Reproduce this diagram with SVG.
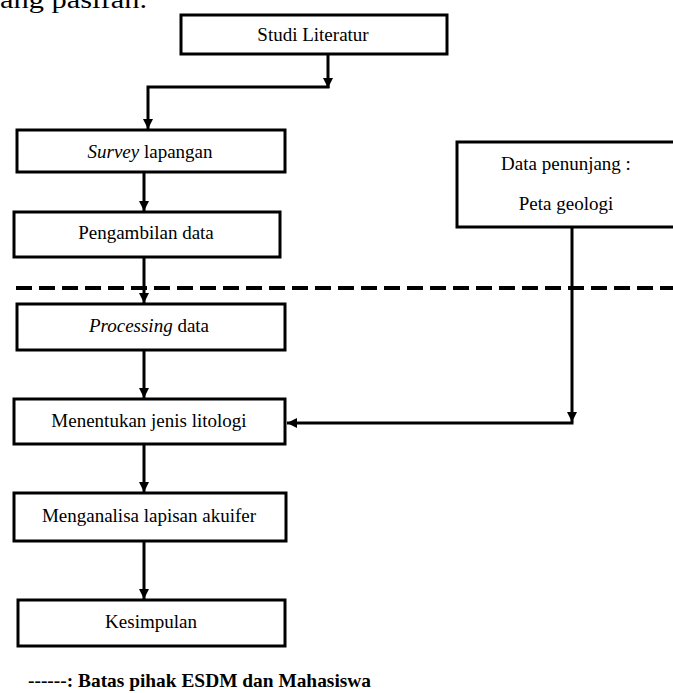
<svg xmlns="http://www.w3.org/2000/svg" width="673" height="693" viewBox="0 0 673 693">
<style>
.box{fill:#fff;stroke:#000;stroke-width:3}
.t{font-family:"Liberation Serif","Times New Roman",serif;font-size:19px;fill:#000;text-anchor:middle}
.c{fill:none;stroke:#000;stroke-width:3}
.i{font-style:italic}
</style>
<defs>
<marker id="ah" markerUnits="userSpaceOnUse" markerWidth="10" markerHeight="10" refX="10" refY="5" orient="auto">
<path d="M0,0 L10,5 L0,10 z" fill="#000"/>
</marker>
</defs>
<rect width="673" height="693" fill="#fff"/>
<text x="0" y="8" font-family="Liberation Serif, serif" font-size="26" textLength="147" lengthAdjust="spacingAndGlyphs">ang pasifan.</text>

<g id="connectors">
<line x1="16" y1="288" x2="673" y2="288" stroke="#000" stroke-width="4" stroke-dasharray="16 7"/>
<path class="c" d="M328,54 V88" marker-end="url(#ah)"/>
<path class="c" d="M329.5,87 H148 V129" marker-end="url(#ah)"/>
<path class="c" d="M144,172 V211" marker-end="url(#ah)"/>
<path class="c" d="M144,257 V303" marker-end="url(#ah)"/>
<path class="c" d="M144,350 V398" marker-end="url(#ah)"/>
<path class="c" d="M572,227 V422" marker-end="url(#ah)"/>
<path class="c" d="M573.5,423 H287" marker-end="url(#ah)"/>
<path class="c" d="M144,444 V492" marker-end="url(#ah)"/>
<path class="c" d="M144,541 V599" marker-end="url(#ah)"/>
</g>

<g id="studi">
<rect class="box" x="181" y="15" width="266" height="39"/>
<text class="t" x="313" y="41">Studi Literatur</text>
</g>
<g id="survey">
<rect class="box" x="17" y="130" width="268" height="42"/>
<text class="t" x="150" y="158"><tspan class="i">Survey</tspan> lapangan</text>
</g>
<g id="pengambilan">
<rect class="box" x="14" y="212" width="266" height="45"/>
<text class="t" x="146" y="239">Pengambilan data</text>
</g>
<g id="processing">
<rect class="box" x="17" y="304" width="268" height="46"/>
<text class="t" x="149" y="332"><tspan class="i">Processing</tspan> data</text>
</g>
<g id="menentukan">
<rect class="box" x="14" y="399" width="271" height="45"/>
<text class="t" x="149" y="427">Menentukan jenis litologi</text>
</g>
<g id="data">
<rect class="box" x="457" y="142" width="220" height="85"/>
<text class="t" x="566" y="170">Data penunjang :</text>
<text class="t" x="566" y="210">Peta geologi</text>
</g>
<g id="menganalisa">
<rect class="box" x="14" y="493" width="272" height="48"/>
<text class="t" x="149" y="522">Menganalisa lapisan akuifer</text>
</g>
<g id="kesimpulan">
<rect class="box" x="18" y="600" width="267" height="46"/>
<text class="t" x="151" y="628">Kesimpulan</text>
</g>
<g id="legend">
<text x="28" y="687" font-family="Liberation Serif, serif" font-size="19" font-weight="bold" textLength="343" lengthAdjust="spacingAndGlyphs">------: Batas pihak ESDM dan Mahasiswa</text>
</g>
</svg>
